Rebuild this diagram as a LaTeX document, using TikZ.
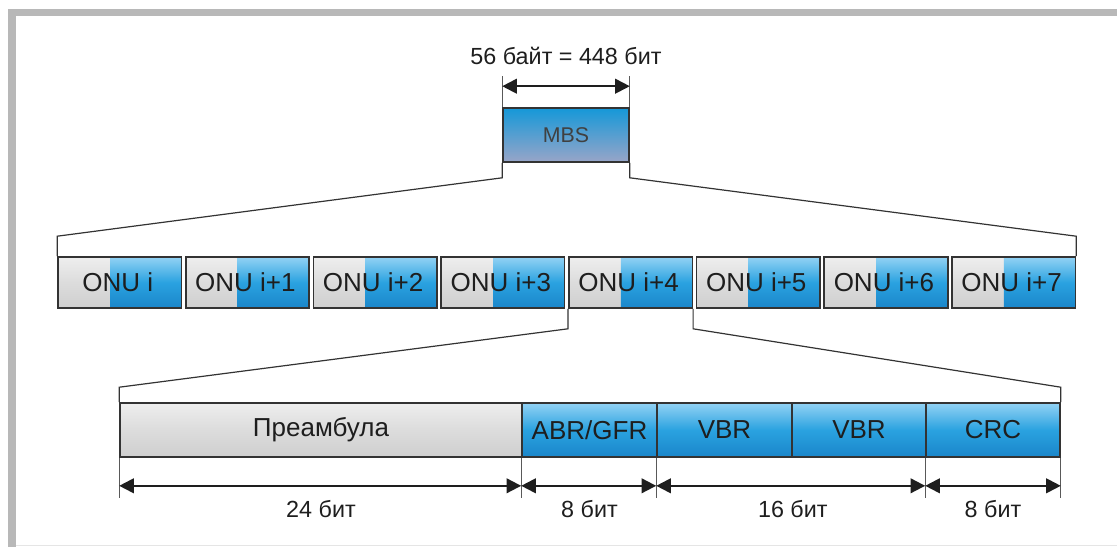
\documentclass[tikz,border=0pt]{standalone}
\usepackage{fontspec}
\setmainfont{Liberation Sans}
\usetikzlibrary{arrows.meta,fit,calc}

\definecolor{frameg}{HTML}{B8B8B8}
\definecolor{edge}{HTML}{333333}
\definecolor{txt}{HTML}{1E1E1E}
\definecolor{bluetop}{HTML}{92D2F4}
\definecolor{bluemid}{HTML}{2AA2E0}
\definecolor{bluebot}{HTML}{1A86CA}
\definecolor{graytop}{HTML}{EEEEEE}
\definecolor{graymid}{HTML}{DCDCDC}
\definecolor{graybot}{HTML}{CFCFCF}
\definecolor{mbstop}{HTML}{1598D8}
\definecolor{mbsbot}{HTML}{98A5C8}

\begin{document}
\begin{tikzpicture}[x=0.75pt,y=-0.75pt,
  lbl/.style={font=\fontsize{17.5}{20}\selectfont, text=txt, inner sep=0pt},
  biglbl/.style={font=\fontsize{19.5}{22}\selectfont, text=txt, inner sep=0pt},
  cell/.style={draw=edge, line width=1.2pt, inner sep=0pt},
  bluefill/.style={top color=bluetop, bottom color=bluebot, middle color=bluemid},
  grayfill/.style={top color=graytop, bottom color=graybot, middle color=graymid},
  link/.style={draw=edge, line width=0.9pt},
  extline/.style={draw=gray!70!black, line width=0.6pt},
  dim/.style={draw=txt, line width=1.5pt,
    {Triangle[length=11pt,width=11pt]}-{Triangle[length=11pt,width=11pt]}}
]
\useasboundingbox (0,0) rectangle (1117,547);

% page frame
\fill[frameg] (8,9) rectangle (1117,16);
\fill[frameg] (8,9) rectangle (16,547);
\draw[gray!20, line width=0.75pt] (16,545.5) -- (1117,545.5);

% MBS block
\shade[top color=mbstop, bottom color=mbsbot] (503,108) rectangle (629,162);
\node[cell, fit={(503,108) (629,162)}] (mbs) {};
\node[inner sep=0pt, text=black!75, font=\fontsize{16}{18}\selectfont] (mbstxt) at (mbs.center) {MBS};
\draw[extline] (mbs.north west) -- ++(0,-31) coordinate (mt1);
\draw[extline] (mbs.north east) -- ++(0,-31) coordinate (mt2);
\draw[dim] ($(mbs.north west)+(0,-21)$) -- ($(mbs.north east)+(0,-21)$);
\node[lbl] (mbslen) at ($(mbs.north)+(0,-51)$) {56 байт = 448 бит};

% ONU slots
\foreach \k/\lab in {0/ONU i,1/ONU i+1,2/ONU i+2,3/ONU i+3,4/ONU i+4,5/ONU i+5,6/ONU i+6,7/ONU i+7}{
  \pgfmathsetmacro\xa{58+127.7*\k}
  \pgfmathsetmacro\xb{\xa+52}
  \pgfmathsetmacro\xc{\xa+123.5}
  \shade[grayfill] (\xa,257) rectangle (\xb,308);
  \shade[bluefill] (\xb,257) rectangle (\xc,308);
  \node[cell, fit={(\xa,257) (\xc,308)}] (onu\k) {};
  \node[biglbl] (onutxt\k) at ($(onu\k.center)+(-2,0)$) {\lab};
}

% MBS expands into the ONU row
\draw[link] (mbs.south west) -- ++(0,15) -- ($(onu0.north west)+(0,-20)$) -- (onu0.north west);
\draw[link] (mbs.south east) -- ++(0,15) -- ($(onu7.north east)+(0,-20)$) -- (onu7.north east);

% fields of one slot
\shade[grayfill] (120,403) rectangle (522,457);
\shade[bluefill] (522,403) rectangle (1060,457);
\node[cell, fit={(120,403) (522,457)}] (pre) {};
\node[cell, fit={(522,403) (657,457)}] (abr) {};
\node[cell, fit={(657,403) (792,457)}] (vbra) {};
\node[cell, fit={(792,403) (926,457)}] (vbrb) {};
\node[cell, fit={(926,403) (1060,457)}] (crc) {};
\node[biglbl] (pretxt) at (pre.center) {Преамбула};
\node[biglbl] (abrtxt) at (abr.center) {ABR/GFR};
\node[biglbl] (vbratxt) at (vbra.center) {VBR};
\node[biglbl] (vbrbtxt) at (vbrb.center) {VBR};
\node[biglbl] (crctxt) at (crc.center) {CRC};

% ONU i+4 expands into its fields
\draw[link] (onu4.south west) -- ++(0,20) -- ($(pre.north west)+(0,-15)$) -- (pre.north west);
\draw[link] (onu4.south east) -- ++(0,20) -- ($(crc.north east)+(0,-15)$) -- (crc.north east);

% field lengths
\foreach \n/\a in {e1/pre.south west,e2/abr.south west,e3/vbra.south west,e4/crc.south west,e5/crc.south east}{
  \draw[extline] (\a) -- ++(0,40) coordinate (\n);
}
\draw[dim] ($(pre.south west)+(0,28)$) -- ($(abr.south west)+(0,28)$);
\draw[dim] ($(abr.south west)+(0,28)$) -- ($(vbra.south west)+(0,28)$);
\draw[dim] ($(vbra.south west)+(0,28)$) -- ($(crc.south west)+(0,28)$);
\draw[dim] ($(crc.south west)+(0,28)$) -- ($(crc.south east)+(0,28)$);
\node[lbl] (w24) at ($(pre.south)+(0,51)$) {24 бит};
\node[lbl] (w8a) at ($(abr.south)+(0,51)$) {8 бит};
\node[lbl] (w16) at ($(vbra.south east)+(0,51)$) {16 бит};
\node[lbl] (w8b) at ($(crc.south)+(0,51)$) {8 бит};
\end{tikzpicture}
\end{document}
